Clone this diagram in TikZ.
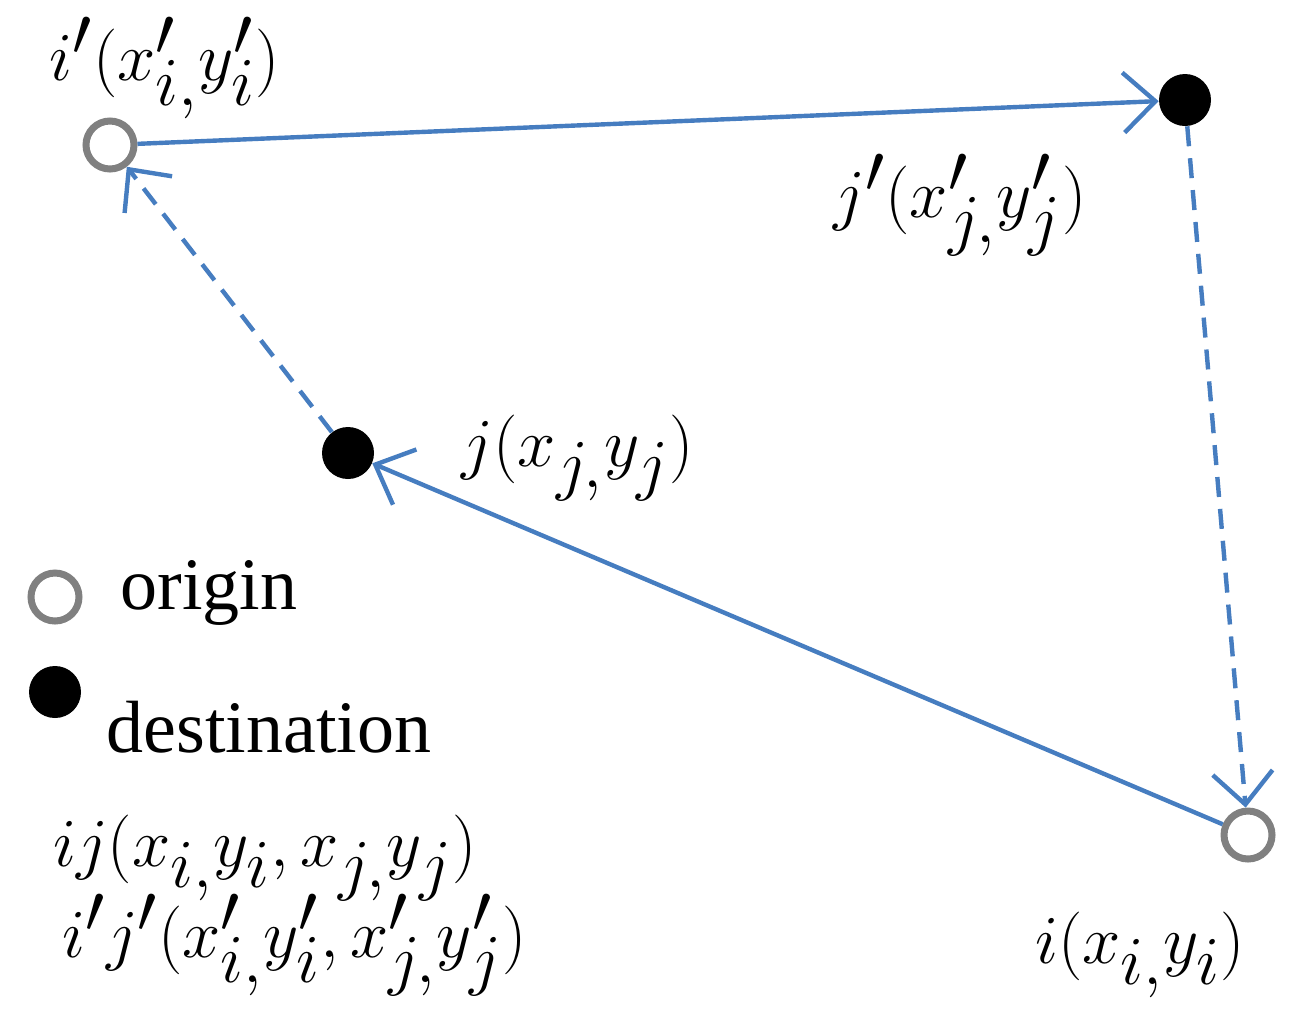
\documentclass[tikz,border=0pt]{standalone}
\usepackage{fontspec}
\setmainfont{Liberation Serif}
\usetikzlibrary{arrows.meta}
\definecolor{ln}{RGB}{70,125,192}
\definecolor{gr}{RGB}{128,128,128}
\begin{document}
\begin{tikzpicture}[x=0.5pt,y=-0.5pt,
  org/.style={circle,draw=gr,line width=3.5pt,fill=white,minimum size=24pt,inner sep=0pt},
  dst/.style={circle,fill=black,minimum size=26pt,inner sep=0pt},
  con/.style={draw=ln,line width=2.2pt,-{Straight Barb[length=16pt,width=30pt,line width=2.2pt]}},
  dcon/.style={con,dash pattern=on 10pt off 6pt},
  lab/.style={font=\fontsize{37}{40}\selectfont,inner sep=0pt},
  mlab/.style={lab,scale=1.38}]
\useasboundingbox (0,0) rectangle (1299,1019);
\node[org] (ip) at (110,145) {};
\node[dst] (jp) at (1185,100) {};
\node[dst] (j) at (348,453) {};
\node[org] (i) at (1248,835) {};
\node[org] (lo) at (55,597) {};
\node[dst] (ld) at (55,692) {};
\draw[con] (ip) -- (jp);
\draw[dcon] (jp) -- (i);
\draw[con] (i) -- (j);
\draw[dcon] (j) -- (ip);
\node[mlab] (tip) at (165,68) {$i'(x'_{i,}y'_i)$};
\node[mlab] (tjp) at (960,205) {$j'(x'_{j,}y'_j)$};
\node[mlab] (tj) at (578,458) {$j(x_{j,}y_j)$};
\node[mlab] (ti) at (1140,955) {$i(x_{i,}y_i)$};
\node[lab,anchor=west] (to) at (120,593) {origin};
\node[lab,anchor=west] (td) at (106,727) {destination};
\node[mlab] (tij) at (265,858) {$ij(x_{i,}y_i,x_{j,}y_j)$};
\node[mlab] (tipjp) at (295,945) {$i'j'(x'_{i,}y'_i,x'_{j,}y'_j)$};
\end{tikzpicture}
\end{document}
